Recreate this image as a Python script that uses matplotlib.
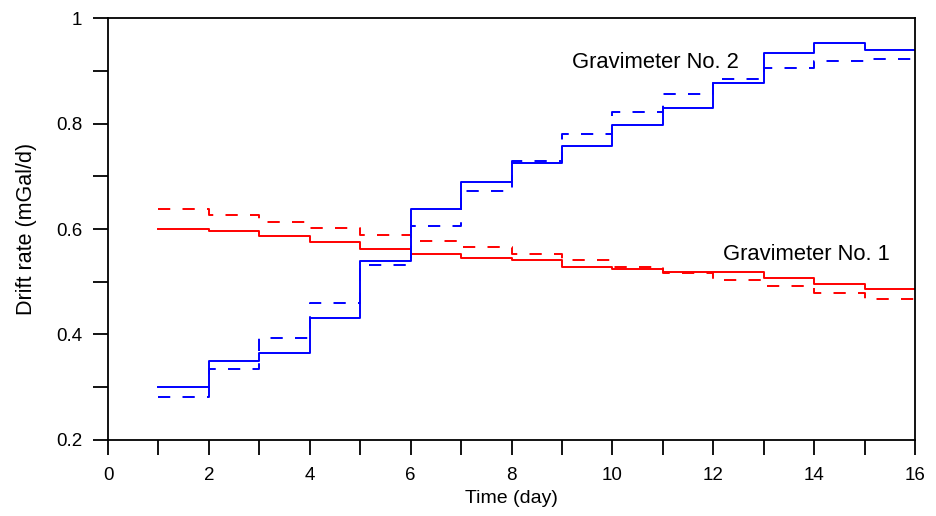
import numpy as np
import matplotlib
matplotlib.use('Agg')
import matplotlib.pyplot as plt
from matplotlib.ticker import MultipleLocator

plt.rcParams['font.family'] = ['Liberation Sans', 'DejaVu Sans']

# day boundaries of each step (value holds from day i to day i+1)
days = np.arange(1, 17)

# Gravimeter No. 1 (red)
g1_solid = [0.600, 0.596, 0.587, 0.575, 0.562, 0.552, 0.545, 0.541, 0.528,
            0.524, 0.519, 0.518, 0.507, 0.496, 0.486]
g1_dash = [0.638, 0.627, 0.614, 0.601, 0.589, 0.578, 0.565, 0.553, 0.541,
           0.528, 0.517, 0.503, 0.491, 0.479, 0.467]

# Gravimeter No. 2 (blue)
g2_solid = [0.300, 0.350, 0.364, 0.432, 0.539, 0.638, 0.689, 0.726, 0.757,
            0.797, 0.829, 0.876, 0.934, 0.953, 0.940]
g2_dash = [0.282, 0.335, 0.393, 0.459, 0.532, 0.606, 0.672, 0.729, 0.780,
           0.822, 0.856, 0.884, 0.905, 0.918, 0.922]


def stepvals(v):
    # repeat last value so the final step reaches day 16
    return list(v) + [v[-1]]


fig = plt.figure(figsize=(9.36, 5.16), dpi=100)
ax = fig.add_axes([0.1154, 0.1473, 0.8622, 0.8178])

lw = 1.4
dash = (6.3, 6.3)
ax.step(days, stepvals(g1_solid), where='post', color='#ff0000', lw=lw)
ax.step(days, stepvals(g1_dash), where='post', color='#ff0000', lw=lw, dashes=dash)
ax.step(days, stepvals(g2_solid), where='post', color='#0000ff', lw=lw)
ax.step(days, stepvals(g2_dash), where='post', color='#0000ff', lw=lw, dashes=dash)

ax.text(9.2, 0.916, 'Gravimeter No. 2', fontsize=15.8, va='center', ha='left')
ax.text(12.2, 0.551, 'Gravimeter No. 1', fontsize=15.8, va='center', ha='left')

ax.set_xlim(0, 16)
ax.set_ylim(0.2, 1.0)
ax.xaxis.set_major_locator(MultipleLocator(2))
ax.xaxis.set_minor_locator(MultipleLocator(1))
ax.yaxis.set_major_locator(MultipleLocator(0.2))
ax.yaxis.set_minor_locator(MultipleLocator(0.1))
ax.set_yticks([0.2, 0.4, 0.6, 0.8, 1.0])
ax.set_yticklabels(['0.2', '0.4', '0.6', '0.8', '1'])

for s in ax.spines.values():
    s.set_linewidth(1.3)
ax.tick_params(which='both', direction='out', length=10.5, width=1.3,
               top=False, right=False, labelsize=13.5)
ax.tick_params(axis='x', which='both', pad=9)
ax.tick_params(axis='y', which='both', pad=8)

ax.set_xlabel('Time (day)', fontsize=14, labelpad=4)
ax.set_ylabel('Drift rate (mGal/d)', fontsize=15.5, labelpad=14)

fig.savefig('out.png', dpi=100)
